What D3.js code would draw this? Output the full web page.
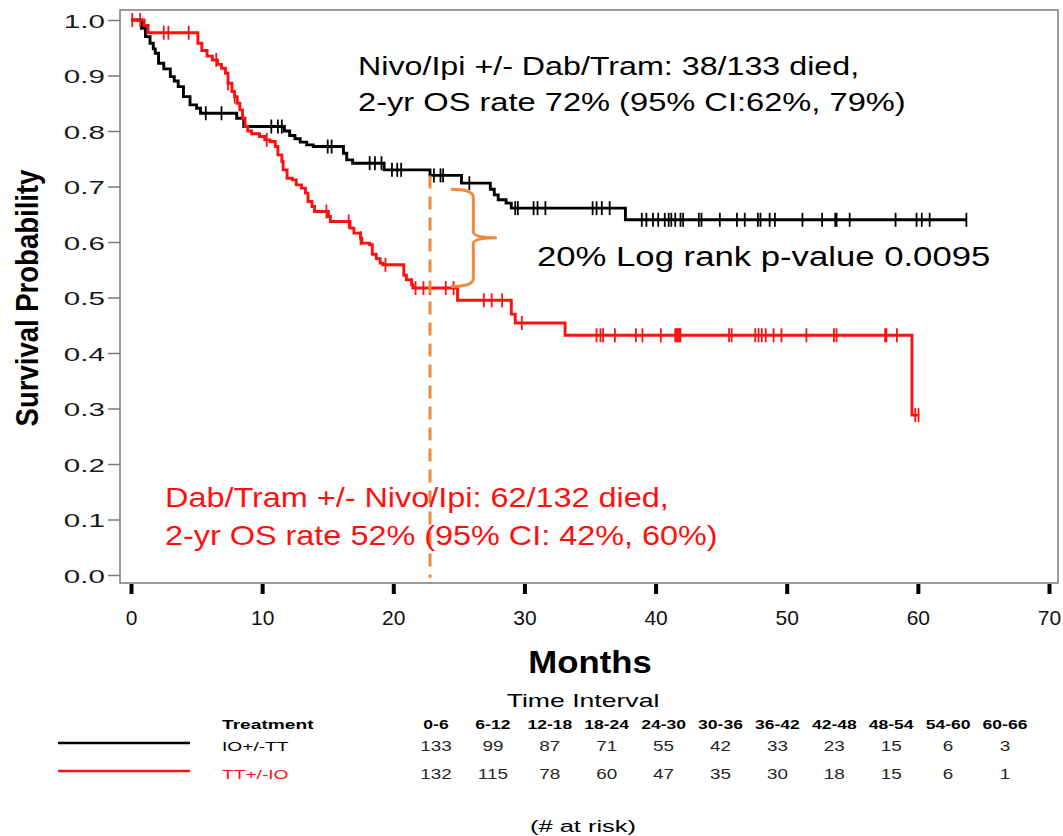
<!DOCTYPE html>
<html>
<head>
<meta charset="utf-8">
<script src="https://cdn.jsdelivr.net/npm/d3@7"></script>
<style>
  body { margin: 0; background: #fff; }
  svg { display: block; }
  text { font-family: "Liberation Sans", Arial, Helvetica, sans-serif; }
</style>
</head>
<body>
<svg id="chart" width="1063" height="836"></svg>
<script>
// Kaplan–Meier steps: [month, survival probability after the event]
const ioSteps = [
  [0, 1.0], [0.8, 0.985], [1.1, 0.97], [1.45, 0.958], [1.7, 0.948], [1.85, 0.94],
  [2.1, 0.922], [2.5, 0.912], [3.0, 0.898], [3.3, 0.89], [3.6, 0.88], [4.0, 0.862],
  [4.5, 0.847], [5.0, 0.841], [5.3, 0.832], [8.06, 0.823], [8.6, 0.808], [11.7, 0.80],
  [12.1, 0.792], [12.5, 0.786], [12.9, 0.78], [13.4, 0.775], [13.9, 0.772], [16.2, 0.76],
  [16.45, 0.748], [16.9, 0.742], [19.3, 0.73], [22.8, 0.72], [25.2, 0.706], [27.4, 0.695],
  [27.7, 0.685], [28.0, 0.676], [28.6, 0.67], [29.0, 0.661], [37.7, 0.64]
];
const ioLastMonth = 63.7;
const ioCensored = [
  5.7, 6.9, 10.7, 11.2, 11.5, 15.0, 15.3, 18.2, 18.6, 19.1, 19.9, 20.3, 20.6, 23.1, 23.6,
  23.8, 25.8, 29.3, 29.5, 30.7, 31.0, 31.6, 35.2, 35.5, 35.9, 36.5, 38.95, 39.3, 39.8, 40.2,
  40.7, 41.0, 41.2, 41.5, 41.9, 42.1, 43.3, 43.5, 44.9, 46.2, 46.8, 47.8, 48.0, 48.7, 49.1,
  51.2, 52.7, 53.7, 53.8, 54.8, 58.3, 59.9, 60.3, 60.9, 63.7
];

const ttSteps = [
  [0, 1.0], [1.0, 0.99], [1.3, 0.977], [5.1, 0.958], [5.4, 0.945], [5.8, 0.935],
  [6.2, 0.928], [6.6, 0.92], [6.9, 0.913], [7.2, 0.904], [7.4, 0.886], [7.7, 0.871],
  [7.9, 0.862], [8.1, 0.85], [8.3, 0.838], [8.5, 0.823], [8.7, 0.808], [8.9, 0.80],
  [9.2, 0.795], [9.8, 0.79], [10.2, 0.784], [10.6, 0.781], [11.0, 0.772], [11.2, 0.757],
  [11.5, 0.745], [11.6, 0.73], [11.9, 0.715], [12.3, 0.712], [12.6, 0.703], [13.0, 0.697],
  [13.3, 0.688], [13.5, 0.673], [13.8, 0.664], [14.0, 0.655], [15.05, 0.646], [15.2, 0.637],
  [16.7, 0.625], [17.0, 0.616], [17.5, 0.607], [17.6, 0.598], [18.2, 0.595], [18.4, 0.578],
  [18.7, 0.57], [19.0, 0.562], [19.2, 0.559], [20.8, 0.54], [21.0, 0.532], [21.4, 0.523],
  [21.5, 0.517], [24.9, 0.495], [29.0, 0.47], [29.3, 0.454], [33.1, 0.432], [59.55, 0.288]
];
const ttLastMonth = 60.1;
const ttCensored = [
  0.1, 0.7, 2.5, 2.85, 4.4, 6.5, 7.4, 7.9, 10.35, 14.9, 16.6, 17.5, 19.4, 21.7, 22.3, 22.8,
  24.0, 24.6, 26.9, 27.5, 28.3, 29.8, 35.5, 35.8, 36.0, 36.9, 38.5, 39.0, 40.4, 41.5, 41.6,
  41.7, 41.8, 41.9, 45.6, 45.8, 47.6, 47.85, 48.1, 48.4, 49.0, 49.6, 51.5, 53.6, 53.8, 57.5,
  57.6, 58.4, 59.8, 60.05
];

const xTicks = [0, 10, 20, 30, 40, 50, 60, 70];
const yTicks = [0, 0.1, 0.2, 0.3, 0.4, 0.5, 0.6, 0.7, 0.8, 0.9, 1.0];

// Number at risk table
const intervals = ["0-6", "6-12", "12-18", "18-24", "24-30", "30-36", "36-42", "42-48", "48-54", "54-60", "60-66"];
const ioAtRisk = [133, 99, 87, 71, 55, 42, 33, 23, 15, 6, 3];
const ttAtRisk = [132, 115, 78, 60, 47, 35, 30, 18, 15, 6, 1];
const groupNames = ["IO+/-TT", "TT+/-IO"];

// 2-year landmark and the survival gap marked by the brace
const landmarkMonth = 22.8;
const gapTop = 0.695, gapBottom = 0.52;

const ioNotes = ["Nivo/Ipi +/- Dab/Tram: 38/133 died,", "2-yr OS rate 72% (95% CI:62%, 79%)"];
const ttNotes = ["Dab/Tram +/- Nivo/Ipi: 62/132 died,", "2-yr OS rate 52% (95% CI: 42%, 60%)"];
const gapNote = "20% Log rank p-value 0.0095";

const RED = "#ff1010", ORANGE = "#ee8a3c";

const svg = d3.select("#chart");
const x = d3.scaleLinear().domain([0, 70]).range([131, 1049]);
const y = d3.scaleLinear().domain([0, 1]).range([575, 20]);

// survival value of a step curve at month t
function survAt(steps, t) {
  let s = steps[0][1];
  for (const [m, v] of steps) { if (m <= t) s = v; else break; }
  return s;
}

// text with horizontal stretch about its anchor point
function stretchText(g, px, py, str, o) {
  return g.append("text")
    .attr("transform", `translate(${px},${py}) scale(${o.sx || 1},1)`)
    .attr("text-anchor", o.anchor || "start")
    .attr("font-size", o.size)
    .attr("font-weight", o.weight || "normal")
    .attr("fill", o.fill || "#000")
    .text(str);
}

// plot frame
svg.append("rect").attr("x", 120).attr("y", 10).attr("width", 938).attr("height", 573)
  .attr("fill", "none").attr("stroke", "#7a7a7a").attr("stroke-width", 1.5);

// y axis
const yAxis = svg.append("g").attr("transform", "translate(120,0)")
  .call(d3.axisLeft(y).tickValues(yTicks).tickFormat(d3.format(".1f")).tickSize(12).tickPadding(0));
yAxis.select(".domain").remove();
yAxis.selectAll(".tick line").attr("stroke", "#7a7a7a").attr("stroke-width", 1.5);
yAxis.selectAll(".tick text")
  .attr("x", null).attr("dy", null)
  .attr("transform", "translate(-15,7) scale(1.6,1)")
  .attr("font-size", 18.5).attr("fill", "#1a1a1a")
  .attr("font-family", "'Liberation Sans', Arial, sans-serif");

// x axis
const xAxis = svg.append("g").attr("transform", "translate(0,584)")
  .call(d3.axisBottom(x).tickValues(xTicks).tickFormat(d3.format("d")).tickSize(10).tickPadding(0));
xAxis.select(".domain").remove();
xAxis.selectAll(".tick line").attr("stroke", "#000").attr("stroke-width", 4);
xAxis.selectAll(".tick text")
  .attr("y", null).attr("dy", null)
  .attr("transform", "translate(0,41) scale(1.05,1)")
  .attr("font-size", 20).attr("fill", "#111")
  .attr("font-family", "'Liberation Sans', Arial, sans-serif");

// axis titles
stretchText(svg, 590, 673, "Months", { size: 31, weight: "bold", anchor: "middle", sx: 1.12 });
svg.append("text")
  .attr("transform", "translate(38,298) rotate(-90) scale(0.86,1)")
  .attr("text-anchor", "middle").attr("font-size", 32).attr("font-weight", "bold")
  .text("Survival Probability");

// survival curves
const line = d3.line().x(d => x(d[0])).y(d => y(d[1])).curve(d3.curveStepAfter);
function drawCurve(steps, last, censored, color) {
  const pts = steps.concat([[last, steps[steps.length - 1][1]]]);
  svg.append("path").datum(pts).attr("d", line)
    .attr("fill", "none").attr("stroke", color).attr("stroke-width", 2.9);
  svg.append("g").selectAll("line").data(censored).join("line")
    .attr("x1", d => x(d)).attr("x2", d => x(d))
    .attr("y1", d => y(survAt(steps, d)) - 7).attr("y2", d => y(survAt(steps, d)) + 7)
    .attr("stroke", color).attr("stroke-width", 1.8);
}
drawCurve(ioSteps, ioLastMonth, ioCensored, "#000");
drawCurve(ttSteps, ttLastMonth, ttCensored, RED);

// 2-year landmark line
svg.append("line")
  .attr("x1", x(landmarkMonth)).attr("x2", x(landmarkMonth))
  .attr("y1", y(survAt(ioSteps, landmarkMonth))).attr("y2", y(-0.005))
  .attr("stroke", ORANGE).attr("stroke-width", 3).attr("stroke-dasharray", "13,8");

// brace spanning the survival gap
{
  const xa = x(24.4), xb = x(26.1), xt = x(27.9);
  const ya = y(gapTop), yb = y(gapBottom), ym = (ya + yb) / 2;
  const p = d3.path();
  p.moveTo(xa, ya);
  p.quadraticCurveTo(xb, ya, xb, ya + 8);
  p.lineTo(xb, ym - 6);
  p.quadraticCurveTo(xb, ym, xt, ym);
  p.quadraticCurveTo(xb, ym, xb, ym + 6);
  p.lineTo(xb, yb - 8);
  p.quadraticCurveTo(xb, yb, xa, yb);
  svg.append("path").attr("d", p.toString()).attr("fill", "none")
    .attr("stroke", ORANGE).attr("stroke-width", 3);
}

// annotations
stretchText(svg, 358, 75, ioNotes[0], { size: 26, sx: 1.24 });
stretchText(svg, 358, 111, ioNotes[1], { size: 26, sx: 1.255 });
stretchText(svg, 537, 266, gapNote, { size: 28, sx: 1.24 });
stretchText(svg, 165, 507, ttNotes[0], { size: 27, sx: 1.2, fill: RED });
stretchText(svg, 165, 545, ttNotes[1], { size: 27, sx: 1.2, fill: RED });

// number-at-risk table
const col = d3.scalePoint().domain(intervals).range([436, 1005]);
const tableRows = [ioAtRisk, ttAtRisk];
const rowY = [751, 779];
const rowColor = ["#000", RED];

stretchText(svg, 583, 707, "Time Interval", { size: 19, anchor: "middle", sx: 1.4 });
stretchText(svg, 222, 729, "Treatment", { size: 13.5, weight: "bold", sx: 1.42 });
svg.append("g").selectAll("text").data(intervals).join("text")
  .attr("transform", d => `translate(${col(d)},729) scale(1.3,1)`)
  .attr("text-anchor", "middle").attr("font-size", 13.5).attr("font-weight", "bold")
  .text(d => d);

tableRows.forEach((vals, i) => {
  svg.append("line").attr("x1", 58).attr("x2", 190).attr("y1", rowY[i] - 8).attr("y2", rowY[i] - 8)
    .attr("stroke", rowColor[i]).attr("stroke-width", 2.4);
  stretchText(svg, 222, rowY[i], groupNames[i], { size: 13.5, sx: 1.42, fill: rowColor[i] });
  svg.append("g").selectAll("text").data(vals).join("text")
    .attr("transform", (d, j) => `translate(${col(intervals[j])},${rowY[i]}) scale(1.35,1)`)
    .attr("text-anchor", "middle").attr("font-size", 14).attr("fill", "#262626")
    .text(d => d);
});

stretchText(svg, 583, 832, "(# at risk)", { size: 17, anchor: "middle", sx: 1.5 });
</script>
</body>
</html>
